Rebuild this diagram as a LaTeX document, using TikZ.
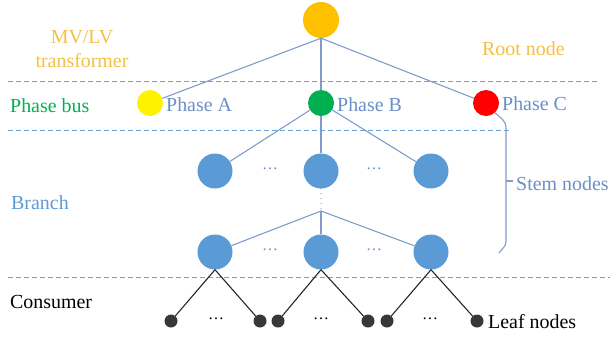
\documentclass[tikz,border=0pt]{standalone}
\usepackage{fontspec}
\setmainfont{Liberation Serif}
\definecolor{rootc}{HTML}{FFC000}
\definecolor{greenc}{HTML}{00B050}
\definecolor{nodeblue}{HTML}{5B9BD5}
\definecolor{leafc}{HTML}{383838}
\definecolor{linec}{HTML}{7E9DCB}
\definecolor{dashc}{HTML}{6FA3D8}
\definecolor{labc}{HTML}{6A8FC6}
\definecolor{goldtext}{HTML}{F5C040}
\begin{document}
\begin{tikzpicture}[x=1bp,y=-1bp,
  every node/.style={font=\fontsize{20}{22}\selectfont, inner sep=0pt},
  bignode/.style={circle,minimum size=35bp,fill=nodeblue},
  phasenode/.style={circle,minimum size=26bp},
  leafnode/.style={circle,minimum size=13bp,fill=leafc},
  conn/.style={draw=linec,line width=1.1bp},
  leafconn/.style={draw=black!85,line width=1.1bp},
  sepline/.style={draw=dashc,dash pattern=on 5bp off 3bp,line width=1bp},
  ellip/.style={text=labc}
]
\useasboundingbox (0,0) rectangle (612,340);

% separators
\draw[sepline] (8,81) -- (600,81);
\draw[sepline] (8,130) -- (510,130);
\draw[sepline] (8,277) -- (610,277);

% nodes
\node[circle,minimum size=36bp,fill=rootc] (root) at (321,20) {};
\node[phasenode,fill=yellow] (pA) at (150,103) {};
\node[phasenode,fill=greenc] (pB) at (321,103) {};
\node[phasenode,fill=red] (pC) at (486,103) {};

\node[bignode] (u1) at (215,171) {};
\node[bignode] (u2) at (321,171) {};
\node[bignode] (u3) at (431,171) {};
\coordinate (j) at (321,211);
\node[bignode] (b1) at (215,252) {};
\node[bignode] (b2) at (321,252) {};
\node[bignode] (b3) at (431,252) {};

\node[leafnode] (l1) at (171,321) {};
\node[leafnode] (l2) at (260,321) {};
\node[leafnode] (l3) at (278,321) {};
\node[leafnode] (l4) at (368,321) {};
\node[leafnode] (l5) at (387,321) {};
\node[leafnode] (l6) at (477,321) {};

% ellipses
\node[ellip] (d1) at (270,169) {\fontsize{16}{18}\selectfont …};
\node[ellip] (d2) at (374,169) {\fontsize{16}{18}\selectfont …};
\node[ellip] (d3) at (270,250) {\fontsize{16}{18}\selectfont …};
\node[ellip] (d4) at (374,250) {\fontsize{16}{18}\selectfont …};
\node[text=black] (d5) at (216,319) {\fontsize{16}{18}\selectfont …};
\node[text=black] (d6) at (321,319) {\fontsize{16}{18}\selectfont …};
\node[text=black] (d7) at (430,319) {\fontsize{16}{18}\selectfont …};

% connectors
\draw[conn] (root.south) -- (pA);
\draw[conn] (root.south) -- (pB);
\draw[conn] (root.south) -- (pC);
\draw[conn] (pB) -- (u1);
\draw[conn] (pB) -- (u2);
\draw[conn] (pB) -- (u3);
\draw[draw=linec,line width=1.4bp,line cap=round,dash pattern=on 0bp off 5bp] (u2.south) -- (j);
\draw[conn] (j) -- (b1);
\draw[conn] (j) -- (b2);
\draw[conn] (j) -- (b3);
\draw[leafconn] (b1.south) -- (l1);
\draw[leafconn] (b1.south) -- (l2);
\draw[leafconn] (b2.south) -- (l3);
\draw[leafconn] (b2.south) -- (l4);
\draw[leafconn] (b3.south) -- (l5);
\draw[leafconn] (b3.south) -- (l6);

% stem bracket
\coordinate (bt) at (506,128);
\coordinate (bb) at (506,241);
\coordinate (bend) at (499,253);
\coordinate (tk) at (506,181);
\coordinate (tke) at (513,181);
\draw[conn] (pC.-48) to[out=-40,in=90] (bt) -- (bb) to[out=-90,in=55] (bend);
\draw[conn] (tk) -- (tke);

% labels
\node[anchor=base,text=goldtext] (t1) at (82,43) {MV/LV};
\node[anchor=base,text=goldtext] (t2) at (82,67) {transformer};
\node[anchor=base west,text=goldtext] (t3) at (482,55) {Root node};
\node[anchor=base west,text=greenc] (t4) at (10,112) {Phase bus};
\node[anchor=base west,text=labc] (tA) at (166,111) {Phase A};
\node[anchor=base west,text=labc] (tB) at (337,111) {Phase B};
\node[anchor=base west,text=labc] (tC) at (502,110) {Phase C};
\node[anchor=base west,text=nodeblue] (t5) at (11,209) {Branch};
\node[anchor=base west,text=labc] (t6) at (516,190) {Stem nodes};
\node[anchor=base west,text=black] (t7) at (10,308) {Consumer};
\node[anchor=base west,text=black] (t8) at (488,328) {Leaf nodes};
\end{tikzpicture}
\end{document}
